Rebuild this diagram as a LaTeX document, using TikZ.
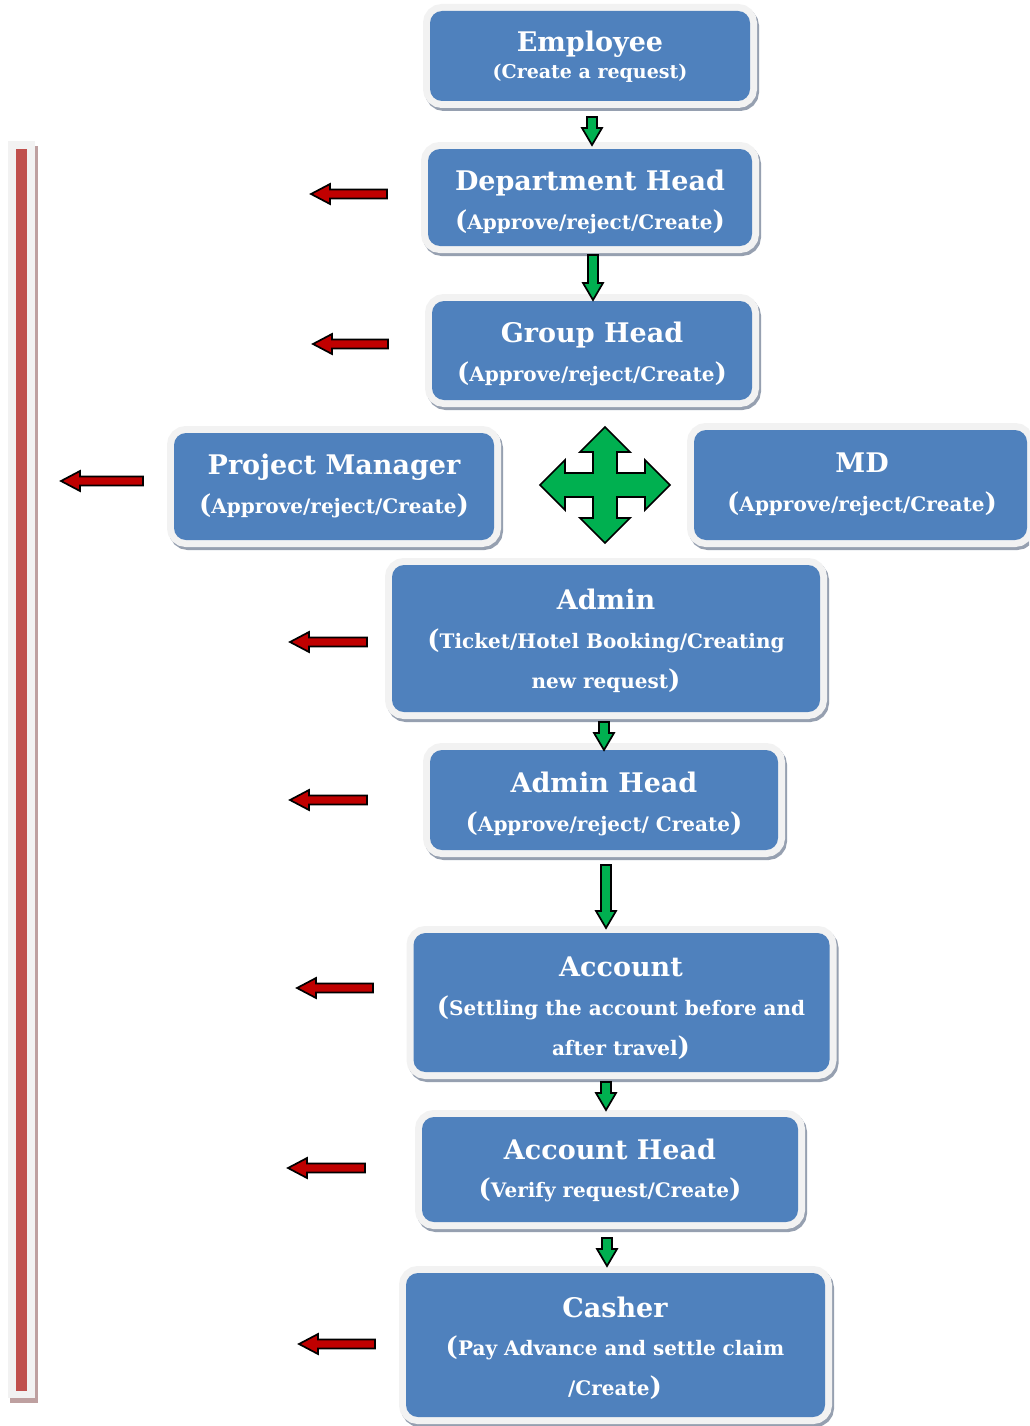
\documentclass[tikz,border=0pt]{standalone}
\usepackage{fontspec}
\setmainfont{DejaVu Serif}
\definecolor{boxblue}{RGB}{79,129,189}
\definecolor{framec}{RGB}{242,242,242}
\definecolor{shadowc}{RGB}{150,160,176}
\definecolor{garrowc}{RGB}{0,176,80}
\definecolor{rarrowc}{RGB}{192,0,0}
\definecolor{barred}{RGB}{192,80,77}
\definecolor{barshadow}{RGB}{190,160,160}
\newcommand\mylp{{\fontsize{26}{26}\selectfont(}}
\newcommand\myrp{{\fontsize{26}{26}\selectfont)}}
\tikzset{
  bluebox/.style={rounded corners=12pt, fill=boxblue, draw=none, inner sep=0pt,
    preaction={draw=shadowc, line width=14pt, transform canvas={shift={(2pt,-3pt)}}},
    preaction={draw=framec, line width=14pt}},
  ttl/.style={anchor=base, text=white, font=\bfseries\fontsize{27}{30}\selectfont, inner sep=0pt},
  sub/.style={anchor=base, text=white, font=\bfseries\fontsize{20}{22}\selectfont, inner sep=0pt},
  garrow/.style={fill=garrowc, draw=black, line width=1.7pt, line join=miter},
  rarrow/.style={fill=rarrowc, draw=black, line width=1.7pt, line join=miter},
}
% green down arrow: x, y-start, y-tip
\newcommand\gdown[3]{\draw[garrow] (#1-5,#2) -- (#1+5,#2) -- (#1+5,#3-17) -- (#1+10,#3-17) -- (#1,#3) -- (#1-10,#3-17) -- (#1-5,#3-17) -- cycle;}
% red left arrow: tip x, tail x, y
\newcommand\rleft[3]{\draw[rarrow] (#1,#3) -- (#1+19,#3-10) -- (#1+19,#3-4.5) -- (#2,#3-4.5) -- (#2,#3+4.5) -- (#1+19,#3+4.5) -- (#1+19,#3+10) -- cycle;}
\begin{document}
\begin{tikzpicture}[x=1pt,y=-1pt]
\clip (0,0) rectangle (1029,1426);
\fill[white] (0,0) rectangle (1029,1426);

% left bar
\fill[barshadow] (10,146) rectangle (38,1403);
\fill[framec] (8,141) rectangle (35,1398);
\fill[barred] (16,149) rectangle (27,1391);

% boxes
\node[bluebox, minimum width=320pt, minimum height=90pt] (emp) at (590,56) {};
\node[bluebox, minimum width=324pt, minimum height=97pt] (dept) at (590,197.5) {};
\node[bluebox, minimum width=320pt, minimum height=99pt] (grp) at (592,350.5) {};
\node[bluebox, minimum width=320pt, minimum height=107pt] (pm) at (334,486.5) {};
\node[bluebox, minimum width=333pt, minimum height=110pt] (md) at (860.5,485) {};
\node[bluebox, minimum width=428pt, minimum height=147pt] (adm) at (606,638.5) {};
\node[bluebox, minimum width=348pt, minimum height=100pt] (admh) at (604,800) {};
\node[bluebox, minimum width=416pt, minimum height=139pt] (acc) at (621.5,1002.5) {};
\node[bluebox, minimum width=376pt, minimum height=105pt] (acch) at (610,1169.5) {};
\node[bluebox, minimum width=419pt, minimum height=144pt] (cash) at (615.5,1345) {};

% texts
\node[ttl] (empT) at (590,52) {Employee};
\node[sub, font=\bfseries\fontsize{19}{20}\selectfont] (empS) at (590,79) {(Create a request)};
\node[ttl] (deptT) at (590,190) {Department Head};
\node[sub] (deptS) at (590,229) {\mylp Approve/reject/Create\myrp};
\node[ttl] (grpT) at (592,342) {Group Head};
\node[sub] (grpS) at (592,381) {\mylp Approve/reject/Create\myrp};
\node[ttl] (pmT) at (334,474) {Project Manager};
\node[sub] (pmS) at (334,513) {\mylp Approve/reject/Create\myrp};
\node[ttl] (mdT) at (862,472) {MD};
\node[sub] (mdS) at (862,511) {\mylp Approve/reject/Create\myrp};
\node[ttl] (admT) at (606,609) {Admin};
\node[sub] (admS1) at (606,648) {\mylp Ticket/Hotel Booking/Creating};
\node[sub] (admS2) at (606,688) {new request\myrp};
\node[ttl] (admhT) at (604,792) {Admin Head};
\node[sub] (admhS) at (604,831) {\mylp Approve/reject/ Create\myrp};
\node[ttl] (accT) at (621,976) {Account};
\node[sub] (accS1) at (621,1015) {\mylp Settling the account before and};
\node[sub] (accS2) at (621,1055) {after travel\myrp};
\node[ttl] (acchT) at (610,1159) {Account Head};
\node[sub] (acchS) at (610,1197) {\mylp Verify request/Create\myrp};
\node[ttl] (cashT) at (615,1317) {Casher};
\node[sub] (cashS1) at (615,1355) {\mylp Pay Advance and settle claim};
\node[sub] (cashS2) at (615,1395) {/Create\myrp};

% green arrows
\gdown{592}{117}{145}
\gdown{593}{255}{300}
\gdown{604}{722}{750}
\gdown{606}{865}{928}
\gdown{606}{1082}{1110}
\gdown{607}{1238}{1266}

% four-way arrow
\draw[garrow] (605,427) -- (630,452) -- (617,452) -- (617,473) -- (645,473) -- (645,460)
  -- (670,485) -- (645,510) -- (645,497) -- (617,497) -- (617,518) -- (630,518)
  -- (605,543) -- (580,518) -- (593,518) -- (593,497) -- (565,497) -- (565,510)
  -- (540,485) -- (565,460) -- (565,473) -- (593,473) -- (593,452) -- (580,452) -- cycle;

% red arrows
\rleft{311}{387}{194}
\rleft{313}{388}{344}
\rleft{61}{143}{481}
\rleft{290}{367}{642}
\rleft{290}{367}{800}
\rleft{297}{373}{988}
\rleft{288}{365}{1168}
\rleft{299}{375}{1344}
\end{tikzpicture}
\end{document}
